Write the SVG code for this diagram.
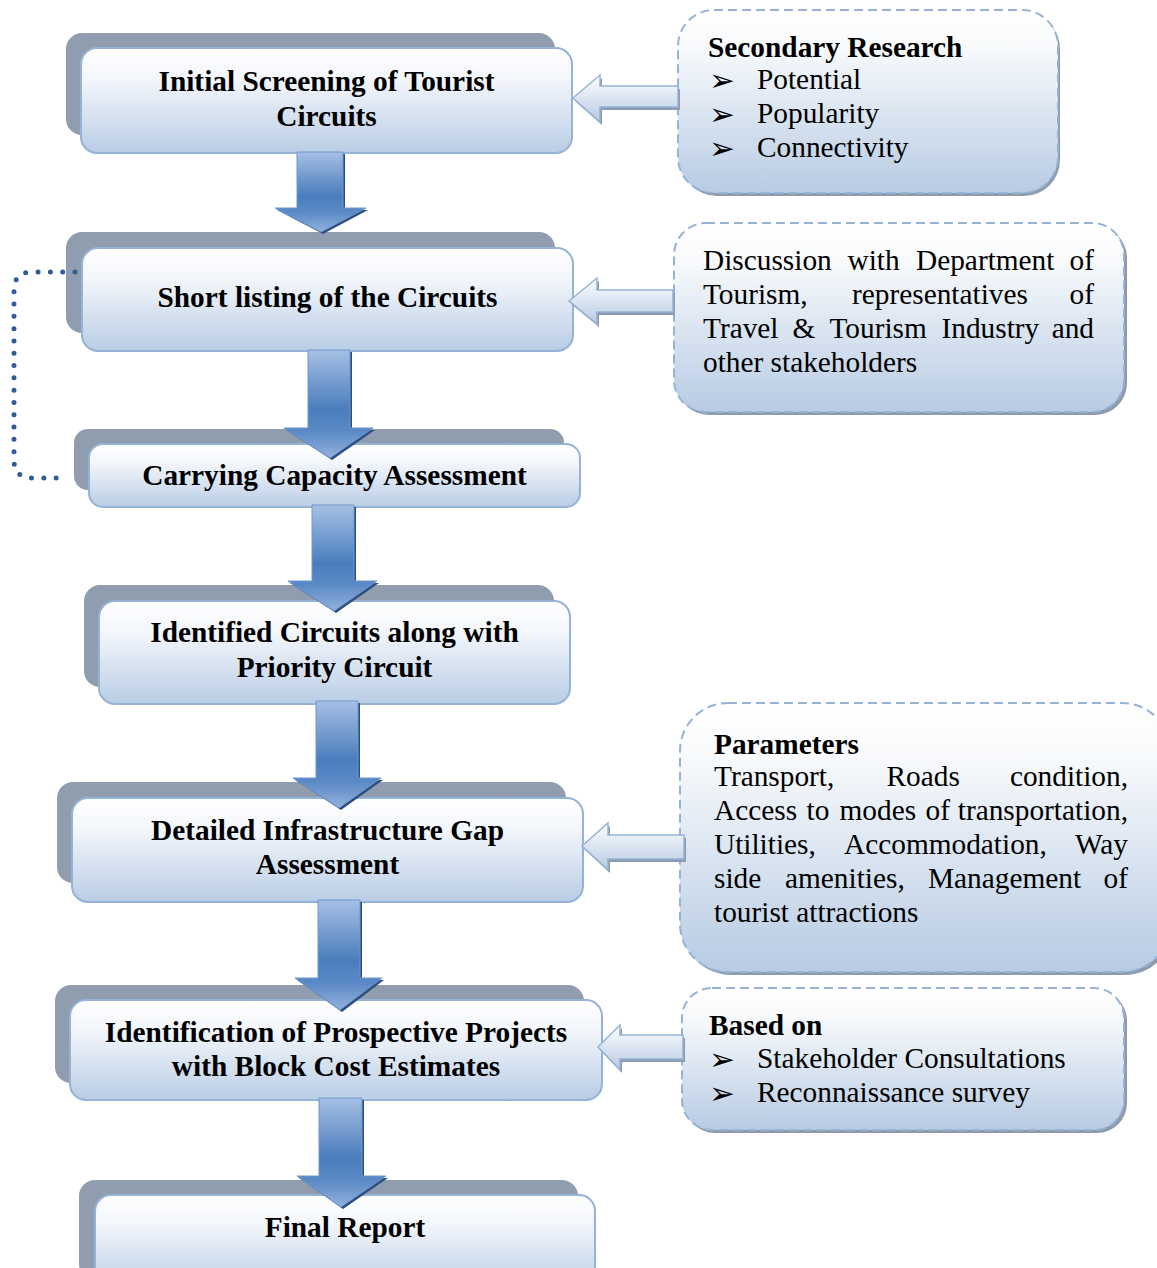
<svg xmlns="http://www.w3.org/2000/svg" width="1157" height="1268" viewBox="0 0 1157 1268">
<defs>
<linearGradient id="gNode" x1="0" y1="0" x2="0" y2="1">
<stop offset="0" stop-color="#FFFFFF"/>
<stop offset="0.3" stop-color="#F3F6FB"/>
<stop offset="1" stop-color="#B9CDE5"/>
</linearGradient>
<linearGradient id="gBox" x1="0" y1="0" x2="0" y2="1">
<stop offset="0" stop-color="#FFFFFF"/>
<stop offset="0.2" stop-color="#F8FAFC"/>
<stop offset="1" stop-color="#B7CBE3"/>
</linearGradient>
<linearGradient id="gDown" x1="0" y1="0" x2="0" y2="1">
<stop offset="0" stop-color="#A6C0E4"/>
<stop offset="0.55" stop-color="#4A7DBD"/>
<stop offset="0.75" stop-color="#5A89C6"/>
<stop offset="1" stop-color="#93B1DC"/>
</linearGradient>
<linearGradient id="gLeft" x1="0" y1="0" x2="0" y2="1">
<stop offset="0" stop-color="#FFFFFF"/>
<stop offset="1" stop-color="#B6CAE3"/>
</linearGradient>
</defs>
<style>
.sh{fill:#909DAE}
.nb{fill:url(#gNode);stroke:#95B3D7;stroke-width:2}
.rb{fill:url(#gBox);stroke:#95B3D7;stroke-width:2;stroke-dasharray:9 5}
.rs{fill:#8E9BAC}
.t{font-family:"Liberation Serif","Times New Roman",serif;font-size:29.33px;fill:#000}
.b{font-weight:bold}
.c{text-anchor:middle}
.e{text-anchor:end}
.bl{font-family:"DejaVu Sans",sans-serif;font-size:31px;fill:#000}
.da{fill:url(#gDown);stroke:#6E97CD;stroke-width:1}
.ds{fill:#2D4F80}
.la{fill:url(#gLeft);stroke:#95B3D7;stroke-width:1.5}
.ls{fill:#8E9BAC}
.dot{fill:none;stroke:#2F5C98;stroke-width:5;stroke-linecap:round;stroke-dasharray:0 12.3}
</style>
<rect width="1157" height="1268" fill="#FFFFFF"/>

<g id="node1">
<rect class="sh" x="66" y="33" width="489" height="102" rx="16"/>
<rect class="nb" x="81" y="48" width="491" height="105" rx="16"/>
<text class="t b c" x="326.5" y="91">Initial Screening of Tourist</text>
<text class="t b c" x="326.5" y="126">Circuits</text>
</g>
<g id="node2">
<rect class="sh" x="66" y="232" width="489" height="101" rx="16"/>
<rect class="nb" x="82" y="248" width="491" height="103" rx="16"/>
<text class="t b c" x="327.5" y="307">Short listing of the Circuits</text>
</g>
<g id="node3">
<rect class="sh" x="74" y="429" width="490" height="61" rx="14"/>
<rect class="nb" x="89" y="444" width="491" height="63" rx="14"/>
<text class="t b c" x="334.5" y="485">Carrying Capacity Assessment</text>
</g>
<g id="node4">
<rect class="sh" x="84" y="585" width="470" height="102" rx="16"/>
<rect class="nb" x="99" y="601" width="471" height="103" rx="16"/>
<text class="t b c" x="334.5" y="642">Identified Circuits along with</text>
<text class="t b c" x="334.5" y="677">Priority Circuit</text>
</g>
<g id="node5">
<rect class="sh" x="57" y="782" width="509" height="101" rx="16"/>
<rect class="nb" x="72" y="798" width="511" height="104" rx="16"/>
<text class="t b c" x="327.5" y="840">Detailed Infrastructure Gap</text>
<text class="t b c" x="327.5" y="874">Assessment</text>
</g>
<g id="node6">
<rect class="sh" x="55" y="985" width="529" height="98" rx="16"/>
<rect class="nb" x="70" y="1000" width="532" height="100" rx="16"/>
<text class="t b c" x="336" y="1042">Identification of Prospective Projects</text>
<text class="t b c" x="336" y="1076">with Block Cost Estimates</text>
</g>
<g id="node7">
<rect class="sh" x="79" y="1180" width="499" height="100" rx="16"/>
<rect class="nb" x="95" y="1195" width="500" height="95" rx="16"/>
<text class="t b c" x="345" y="1237">Final Report</text>
</g>

<g id="boxA">
<rect class="rs" x="681" y="13" width="379" height="183" rx="36"/>
<rect class="rb" x="678" y="10" width="380" height="183" rx="36"/>
<text class="t b" x="708" y="57">Secondary Research</text>
<text class="bl" x="709" y="91">➢</text>
<text class="t" x="757" y="89">Potential</text>
<text class="bl" x="709" y="125">➢</text>
<text class="t" x="757" y="123">Popularity</text>
<text class="bl" x="709" y="159">➢</text>
<text class="t" x="757" y="157">Connectivity</text>
</g>
<g id="boxB">
<rect class="rs" x="677" y="226" width="450" height="189" rx="32"/>
<rect class="rb" x="674" y="223" width="450" height="189" rx="32"/>
<text class="t" x="703" y="270">Discussion</text>
<text class="t" x="847.5" y="270">with</text>
<text class="t" x="916" y="270">Department</text>
<text class="t e" x="1094" y="270">of</text>
<text class="t" x="703" y="304">Tourism,</text>
<text class="t" x="852" y="304">representatives</text>
<text class="t e" x="1094" y="304">of</text>
<text class="t" x="703" y="338">Travel</text>
<text class="t" x="792.5" y="338">&amp;</text>
<text class="t" x="829.5" y="338">Tourism</text>
<text class="t" x="941.5" y="338">Industry</text>
<text class="t e" x="1094" y="338">and</text>
<text class="t" x="703" y="372">other stakeholders</text>
</g>
<g id="boxC">
<rect class="rs" x="683" y="706" width="490" height="269" rx="48"/>
<rect class="rb" x="680" y="703" width="490" height="269" rx="48"/>
<text class="t b" x="714" y="754">Parameters</text>
<text class="t" x="714" y="786">Transport,</text>
<text class="t" x="886.5" y="786">Roads</text>
<text class="t e" x="1128" y="786">condition,</text>
<text class="t" x="714" y="820">Access</text>
<text class="t" x="806.5" y="820">to</text>
<text class="t" x="839.5" y="820">modes</text>
<text class="t" x="925.5" y="820">of</text>
<text class="t e" x="1128" y="820">transportation,</text>
<text class="t" x="714" y="854">Utilities,</text>
<text class="t" x="844" y="854">Accommodation,</text>
<text class="t e" x="1128" y="854">Way</text>
<text class="t" x="714" y="888">side</text>
<text class="t" x="785" y="888">amenities,</text>
<text class="t" x="928" y="888">Management</text>
<text class="t e" x="1128" y="888">of</text>
<text class="t" x="714" y="922">tourist attractions</text>
</g>
<g id="boxD">
<rect class="rs" x="685" y="991" width="442" height="142" rx="30"/>
<rect class="rb" x="682" y="988" width="442" height="142" rx="30"/>
<text class="t b" x="709" y="1035">Based on</text>
<text class="bl" x="709" y="1070">➢</text>
<text class="t" x="757" y="1068">Stakeholder Consultations</text>
<text class="bl" x="709" y="1104">➢</text>
<text class="t" x="757" y="1102">Reconnaissance survey</text>
</g>

<g id="connectors">
<path class="dot" d="M75 272 L32 272 Q14 272 14 290 L14 460 Q14 478 32 478 L64 478"/>
<polygon class="ds" points="299,154 345,154 345,210 368,210 323,234 277,210 299,210"/>
<polygon class="da" points="297,152 343,152 343,208 366,208 321,232 275,208 297,208"/>
<polygon class="ds" points="310,352 352,352 352,430 375,430 332,460 286,430 310,430"/>
<polygon class="da" points="308,350 350,350 350,428 373,428 330,458 284,428 308,428"/>
<polygon class="ds" points="314,507 356,507 356,583 379,583 336,613 290,583 314,583"/>
<polygon class="da" points="312,505 354,505 354,581 377,581 334,611 288,581 312,581"/>
<polygon class="ds" points="318,703 360,703 360,780 383,780 341,810 295,780 318,780"/>
<polygon class="da" points="316,701 358,701 358,778 381,778 339,808 293,778 316,778"/>
<polygon class="ds" points="320,902 362,902 362,980 384,980 342,1012 297,980 320,980"/>
<polygon class="da" points="318,900 360,900 360,978 382,978 340,1010 295,978 318,978"/>
<polygon class="ds" points="321,1100 364,1100 364,1178 388,1178 343,1209 299,1178 321,1178"/>
<polygon class="da" points="319,1098 362,1098 362,1176 386,1176 341,1207 297,1176 319,1176"/>

<polygon class="ls" points="575,101 602,78 602,89 680,89 680,110 602,110 602,125"/>
<polygon class="la" points="573,98 600,75 600,86 678,86 678,107 600,107 600,122"/>
<polygon class="ls" points="571,304 599,281 599,293 675,293 675,315 599,315 599,327"/>
<polygon class="la" points="569,301 597,278 597,290 673,290 673,312 597,312 597,324"/>
<polygon class="ls" points="584,849 610,826 610,838 686,838 686,862 610,862 610,873"/>
<polygon class="la" points="582,846 608,823 608,835 684,835 684,859 608,859 608,870"/>
<polygon class="ls" points="600,1050 622,1028 622,1038 685,1038 685,1062 622,1062 622,1073"/>
<polygon class="la" points="598,1047 620,1025 620,1035 683,1035 683,1059 620,1059 620,1070"/>
</g>
</svg>
